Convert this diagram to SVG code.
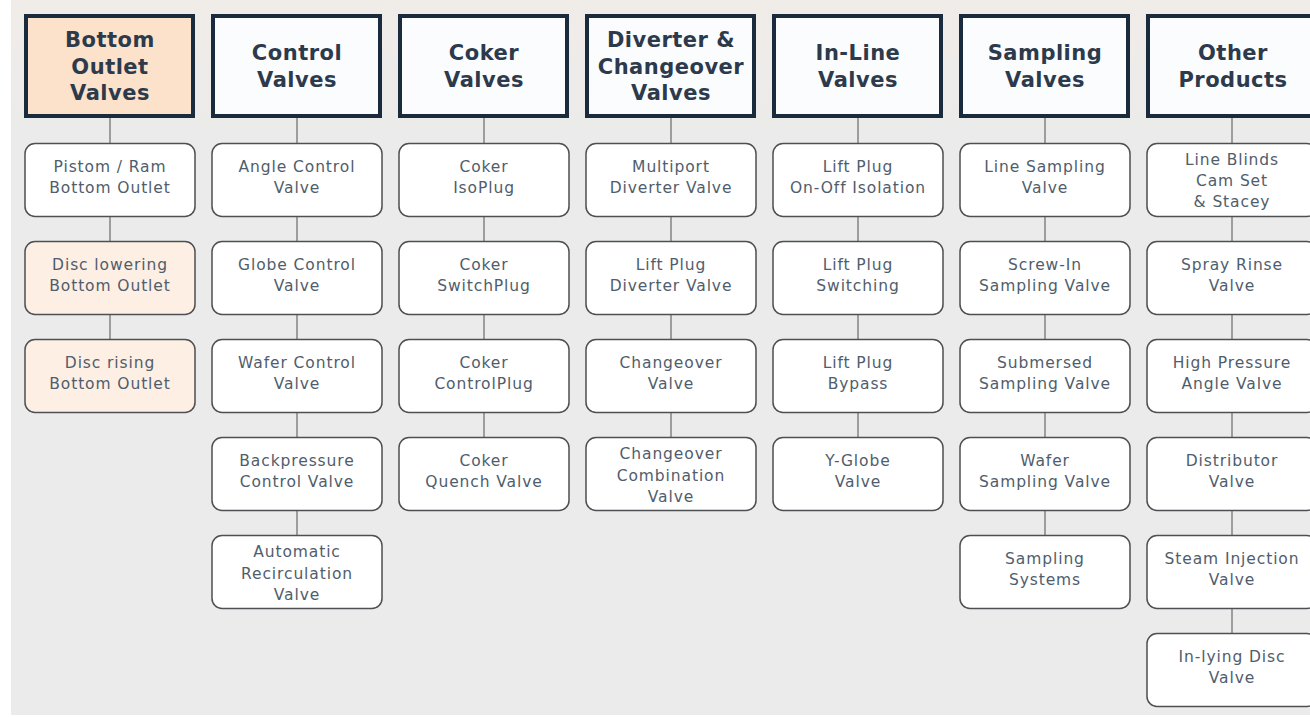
<svg xmlns="http://www.w3.org/2000/svg" width="1310" height="717" viewBox="0 0 1310 717">
<defs>
<linearGradient id="topband" x1="0" y1="0" x2="0" y2="1">
<stop offset="0" stop-color="#f0ece8"/>
<stop offset="1" stop-color="#ebebeb"/>
</linearGradient>
</defs>
<style>
.hdr{stroke:#1b2b3e;stroke-width:4;fill:#fafcfe}
.hdr.peach{fill:#fde2cb}
.ch{stroke:#4d4f52;stroke-width:1.5;fill:#ffffff}
.ch.peach{fill:#fdefe3}
.ht{font-family:"DejaVu Sans",Verdana,sans-serif;font-weight:bold;font-size:21px;letter-spacing:0.5px;fill:#2c3a4b;text-anchor:middle}
.ct{font-family:"DejaVu Sans",Verdana,sans-serif;font-size:15.5px;letter-spacing:0.9px;fill:#505d6c;text-anchor:middle}
.con line{stroke:#9d9d9d;stroke-width:2}
</style>
<rect x="0" y="0" width="1310" height="717" fill="#ffffff"/>
<rect x="11" y="0" width="1299" height="715" fill="#ebebeb"/>
<rect x="11" y="0" width="1299" height="135" fill="url(#topband)"/>

<g id="connectors" class="con">
<line x1="110" y1="118" x2="110" y2="339"/>
<line x1="297" y1="118" x2="297" y2="535"/>
<line x1="484" y1="118" x2="484" y2="437"/>
<line x1="671" y1="118" x2="671" y2="437"/>
<line x1="858" y1="118" x2="858" y2="437"/>
<line x1="1045" y1="118" x2="1045" y2="535"/>
<line x1="1232" y1="118" x2="1232" y2="633"/>
</g>

<!-- Column 1 -->
<g id="h-bottom-outlet"><rect class="hdr peach" x="26" y="16" width="167" height="100"/>
<text class="ht"><tspan x="110" y="47">Bottom</tspan><tspan x="110" y="73.5">Outlet</tspan><tspan x="110" y="100">Valves</tspan></text></g>
<g id="n-pistom"><rect class="ch" x="25" y="143.5" width="170" height="73" rx="10"/>
<text class="ct"><tspan x="110" y="172">Pistom / Ram</tspan><tspan x="110" y="193">Bottom Outlet</tspan></text></g>
<g id="n-disc-lowering"><rect class="ch peach" x="25" y="241.5" width="170" height="73" rx="10"/>
<text class="ct"><tspan x="110" y="270">Disc lowering</tspan><tspan x="110" y="291">Bottom Outlet</tspan></text></g>
<g id="n-disc-rising"><rect class="ch peach" x="25" y="339.5" width="170" height="73" rx="10"/>
<text class="ct"><tspan x="110" y="368">Disc rising</tspan><tspan x="110" y="389">Bottom Outlet</tspan></text></g>

<!-- Column 2 -->
<g id="h-control"><rect class="hdr" x="213" y="16" width="167" height="100"/>
<text class="ht"><tspan x="297" y="60">Control</tspan><tspan x="297" y="87">Valves</tspan></text></g>
<g id="n-angle-control"><rect class="ch" x="212" y="143.5" width="170" height="73" rx="10"/>
<text class="ct"><tspan x="297" y="172">Angle Control</tspan><tspan x="297" y="193">Valve</tspan></text></g>
<g id="n-globe-control"><rect class="ch" x="212" y="241.5" width="170" height="73" rx="10"/>
<text class="ct"><tspan x="297" y="270">Globe Control</tspan><tspan x="297" y="291">Valve</tspan></text></g>
<g id="n-wafer-control"><rect class="ch" x="212" y="339.5" width="170" height="73" rx="10"/>
<text class="ct"><tspan x="297" y="368">Wafer Control</tspan><tspan x="297" y="389">Valve</tspan></text></g>
<g id="n-backpressure"><rect class="ch" x="212" y="437.5" width="170" height="73" rx="10"/>
<text class="ct"><tspan x="297" y="466">Backpressure</tspan><tspan x="297" y="487">Control Valve</tspan></text></g>
<g id="n-auto-recirc"><rect class="ch" x="212" y="535.5" width="170" height="73" rx="10"/>
<text class="ct"><tspan x="297" y="557">Automatic</tspan><tspan x="297" y="578.5">Recirculation</tspan><tspan x="297" y="600">Valve</tspan></text></g>

<!-- Column 3 -->
<g id="h-coker"><rect class="hdr" x="400" y="16" width="167" height="100"/>
<text class="ht"><tspan x="484" y="60">Coker</tspan><tspan x="484" y="87">Valves</tspan></text></g>
<g id="n-coker-isoplug"><rect class="ch" x="399" y="143.5" width="170" height="73" rx="10"/>
<text class="ct"><tspan x="484" y="172">Coker</tspan><tspan x="484" y="193">IsoPlug</tspan></text></g>
<g id="n-coker-switchplug"><rect class="ch" x="399" y="241.5" width="170" height="73" rx="10"/>
<text class="ct"><tspan x="484" y="270">Coker</tspan><tspan x="484" y="291">SwitchPlug</tspan></text></g>
<g id="n-coker-controlplug"><rect class="ch" x="399" y="339.5" width="170" height="73" rx="10"/>
<text class="ct"><tspan x="484" y="368">Coker</tspan><tspan x="484" y="389">ControlPlug</tspan></text></g>
<g id="n-coker-quench"><rect class="ch" x="399" y="437.5" width="170" height="73" rx="10"/>
<text class="ct"><tspan x="484" y="466">Coker</tspan><tspan x="484" y="487">Quench Valve</tspan></text></g>

<!-- Column 4 -->
<g id="h-diverter"><rect class="hdr" x="587" y="16" width="167" height="100"/>
<text class="ht"><tspan x="671" y="47">Diverter &amp;</tspan><tspan x="671" y="73.5">Changeover</tspan><tspan x="671" y="100">Valves</tspan></text></g>
<g id="n-multiport"><rect class="ch" x="586" y="143.5" width="170" height="73" rx="10"/>
<text class="ct"><tspan x="671" y="172">Multiport</tspan><tspan x="671" y="193">Diverter Valve</tspan></text></g>
<g id="n-liftplug-diverter"><rect class="ch" x="586" y="241.5" width="170" height="73" rx="10"/>
<text class="ct"><tspan x="671" y="270">Lift Plug</tspan><tspan x="671" y="291">Diverter Valve</tspan></text></g>
<g id="n-changeover"><rect class="ch" x="586" y="339.5" width="170" height="73" rx="10"/>
<text class="ct"><tspan x="671" y="368">Changeover</tspan><tspan x="671" y="389">Valve</tspan></text></g>
<g id="n-changeover-combo"><rect class="ch" x="586" y="437.5" width="170" height="73" rx="10"/>
<text class="ct"><tspan x="671" y="459">Changeover</tspan><tspan x="671" y="480.5">Combination</tspan><tspan x="671" y="502">Valve</tspan></text></g>

<!-- Column 5 -->
<g id="h-inline"><rect class="hdr" x="774" y="16" width="167" height="100"/>
<text class="ht"><tspan x="858" y="60">In-Line</tspan><tspan x="858" y="87">Valves</tspan></text></g>
<g id="n-liftplug-onoff"><rect class="ch" x="773" y="143.5" width="170" height="73" rx="10"/>
<text class="ct"><tspan x="858" y="172">Lift Plug</tspan><tspan x="858" y="193">On-Off Isolation</tspan></text></g>
<g id="n-liftplug-switching"><rect class="ch" x="773" y="241.5" width="170" height="73" rx="10"/>
<text class="ct"><tspan x="858" y="270">Lift Plug</tspan><tspan x="858" y="291">Switching</tspan></text></g>
<g id="n-liftplug-bypass"><rect class="ch" x="773" y="339.5" width="170" height="73" rx="10"/>
<text class="ct"><tspan x="858" y="368">Lift Plug</tspan><tspan x="858" y="389">Bypass</tspan></text></g>
<g id="n-yglobe"><rect class="ch" x="773" y="437.5" width="170" height="73" rx="10"/>
<text class="ct"><tspan x="858" y="466">Y-Globe</tspan><tspan x="858" y="487">Valve</tspan></text></g>

<!-- Column 6 -->
<g id="h-sampling"><rect class="hdr" x="961" y="16" width="167" height="100"/>
<text class="ht"><tspan x="1045" y="60">Sampling</tspan><tspan x="1045" y="87">Valves</tspan></text></g>
<g id="n-line-sampling"><rect class="ch" x="960" y="143.5" width="170" height="73" rx="10"/>
<text class="ct"><tspan x="1045" y="172">Line Sampling</tspan><tspan x="1045" y="193">Valve</tspan></text></g>
<g id="n-screwin"><rect class="ch" x="960" y="241.5" width="170" height="73" rx="10"/>
<text class="ct"><tspan x="1045" y="270">Screw-In</tspan><tspan x="1045" y="291">Sampling Valve</tspan></text></g>
<g id="n-submersed"><rect class="ch" x="960" y="339.5" width="170" height="73" rx="10"/>
<text class="ct"><tspan x="1045" y="368">Submersed</tspan><tspan x="1045" y="389">Sampling Valve</tspan></text></g>
<g id="n-wafer-sampling"><rect class="ch" x="960" y="437.5" width="170" height="73" rx="10"/>
<text class="ct"><tspan x="1045" y="466">Wafer</tspan><tspan x="1045" y="487">Sampling Valve</tspan></text></g>
<g id="n-sampling-systems"><rect class="ch" x="960" y="535.5" width="170" height="73" rx="10"/>
<text class="ct"><tspan x="1045" y="564">Sampling</tspan><tspan x="1045" y="585">Systems</tspan></text></g>

<!-- Column 7 -->
<g id="h-other"><rect class="hdr" x="1148" y="16" width="167" height="100"/>
<text class="ht"><tspan x="1233" y="60">Other</tspan><tspan x="1233" y="87">Products</tspan></text></g>
<g id="n-line-blinds"><rect class="ch" x="1147" y="143.5" width="170" height="73" rx="10"/>
<text class="ct"><tspan x="1232" y="165">Line Blinds</tspan><tspan x="1232" y="186">Cam Set</tspan><tspan x="1232" y="207">&amp; Stacey</tspan></text></g>
<g id="n-spray-rinse"><rect class="ch" x="1147" y="241.5" width="170" height="73" rx="10"/>
<text class="ct"><tspan x="1232" y="270">Spray Rinse</tspan><tspan x="1232" y="291">Valve</tspan></text></g>
<g id="n-high-pressure"><rect class="ch" x="1147" y="339.5" width="170" height="73" rx="10"/>
<text class="ct"><tspan x="1232" y="368">High Pressure</tspan><tspan x="1232" y="389">Angle Valve</tspan></text></g>
<g id="n-distributor"><rect class="ch" x="1147" y="437.5" width="170" height="73" rx="10"/>
<text class="ct"><tspan x="1232" y="466">Distributor</tspan><tspan x="1232" y="487">Valve</tspan></text></g>
<g id="n-steam-injection"><rect class="ch" x="1147" y="535.5" width="170" height="73" rx="10"/>
<text class="ct"><tspan x="1232" y="564">Steam Injection</tspan><tspan x="1232" y="585">Valve</tspan></text></g>
<g id="n-inlying-disc"><rect class="ch" x="1147" y="633.5" width="170" height="73" rx="10"/>
<text class="ct"><tspan x="1232" y="662">In-lying Disc</tspan><tspan x="1232" y="683">Valve</tspan></text></g>
</svg>
